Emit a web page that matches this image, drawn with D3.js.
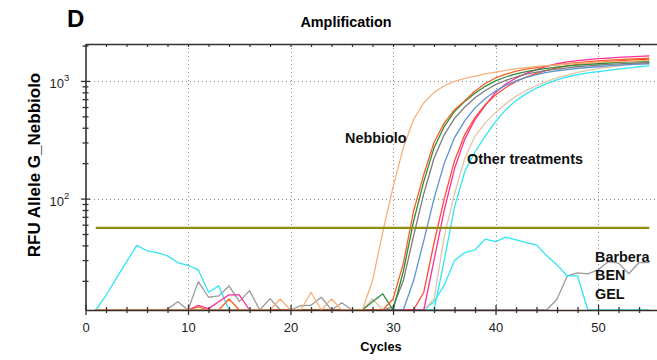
<!DOCTYPE html>
<html><head><meta charset="utf-8">
<script src="https://cdn.jsdelivr.net/npm/d3@7"></script>
<style>html,body{margin:0;padding:0;background:#fff;} svg{display:block;font-family:"Liberation Sans",Arial,sans-serif;}</style>
</head><body><svg id="c" width="657" height="360"></svg>
<script>
// cycles 1..55
const cycles = d3.range(1, 56);

const nebbiolo = [8,8,8,8,8,8,8,8,8,8,8,8,8,8,8,8,8,8,14,8,8,16,8,14,8,8,9,20,52,125,270,470,650,800,910,990,1050,1100,1150,1190,1230,1270,1300,1330,1350,1370,1390,1410,1420,1440,1450,1460,1470,1480,1490];
const orangeA = [8,8,8,8,8,8,8,8,8,8,12,8,8,14,8,8,8,8,8,8,8,8,8,8,8,8,8,8,8,14,28,78,160,300,440,570,680,820,950,1060,1140,1210,1260,1300,1340,1370,1400,1430,1460,1480,1500,1520,1535,1550,1560];
const green = [8,8,8,8,8,8,8,8,8,8,8,8,8,8,8,8,8,8,8,8,8,8,8,8,8,8,8,13.3,15.5,8,24,64,140,270,410,550,670,790,900,1000,1080,1150,1200,1240,1280,1310,1340,1360,1380,1400,1420,1435,1450,1460,1470];
const gray = [8,8,8,8,8,8,8,8,8,8,8,8,8,8,8,8,8,8,8,8,8,8,8,8,8,8,8,8,8,12,20,48,110,220,350,480,600,720,830,930,1010,1080,1140,1190,1230,1260,1290,1320,1340,1360,1380,1395,1410,1420,1430];
const blue = [8,8,8,8,8,8,8,8,8,8,8,8,8,8,8,8,8,8,8,8,8,8,8,8,8,8,8,8,8,8,8,20,44,100,200,330,460,590,710,820,920,1000,1070,1130,1180,1220,1250,1280,1300,1320,1340,1360,1375,1390,1400];
const orangeB = [8,8,8,8,8,8,8,8,8,8,8,8,8,8,8,8,8,8,8,8,8,8,8,8,8,8,8,8,8,8,8,8,16,42,100,210,350,490,630,760,880,990,1080,1160,1230,1290,1340,1380,1410,1440,1460,1480,1500,1515,1530];
const pink = [8,8,8,8,8,8,8,8,8,8,12.4,11.6,13.3,15.2,15.2,8,8,8,8,8,8,8,8,8,8,8,8,8,8,8,8,8,10,30,80,180,320,470,620,800,940,1060,1160,1250,1330,1400,1450,1490,1520,1545,1565,1585,1600,1615,1630];
const tan = [8,8,8,8,8,8,8,8,8,8,8,8,8,8,8,8,8,8,8,8,8,8,8,8,8,8,8,14,8,8,8,8,8,14,48,110,220,340,440,540,640,740,830,910,990,1060,1120,1180,1230,1270,1310,1340,1370,1395,1420];
const cyan = [8,8,8,8,8,8,8,8,8,8,8,8,8,8,8,8,8,8,8,8,8,8,8,8,8,8,8,8,8,8,8,8,8,11,30,85,170,250,340,450,570,680,780,870,950,1020,1080,1130,1170,1200,1230,1260,1290,1315,1340];
const cyanNeg = [8,15,21,29,40,36,34.8,32.6,28.6,27,24.8,16,18.1,8,8,8,8,8,8,8,8,8,8,8,8,8,8,8,8,8,8,8,8,13.3,18.4,29.8,34.8,36.7,45.2,43.1,47,44.5,42.3,40.4,32.6,27.3,22,22,8,8,8,8,8,8,8];
const grayNeg = [8,8,8,8,8,8,8,11.5,13.3,8,19.7,14.5,14.9,18.1,13.3,16.5,8,14.1,8,8,12.3,12.4,14.5,8,13,8,8,8,8,8,8,8,8,8,8,8,8,8,8,8,8,8,8,8,8,14,22,23.4,22.9,24.8,29.1,28.3,23,28.6,28.6];

const seriesNames = ["grayNeg","cyanNeg","tan","cyan","pink","orangeB","blue","gray","green","orangeA","nebbiolo"];
const seriesValues = [grayNeg,cyanNeg,tan,cyan,pink,orangeB,blue,gray,green,orangeA,nebbiolo];
const seriesColors = ["#9a9a9a","#2fe6f2","#e2c4a6","#2fe6f2","#ff2e98","#ff4a30","#5b92d2","#7c7c7c","#2e8b3a","#f95f22","#f8b07c"];

const xTickValues = d3.range(0, 56, 2);
const xTickLabels = [0,10,20,30,40,50];
const yMinorTicks = [20,30,40,50,60,70,80,90,200,300,400,500,600,700,800,900,2000];
const yMajorTicks = [100,1000];
const yMajorExp = ["2","3"];
const threshold = 56.4;

const svg = d3.select("#c");
const x = d3.scaleLinear().domain([0, 55.75]).range([85.5, 657]);
const y = d3.scaleLog().domain([11.3, 2060]).range([310, 44]).clamp(true);

// grid
const grid = svg.append("g").attr("stroke", "#8a8a8a").attr("stroke-width", 1).attr("stroke-dasharray", "1,3");
grid.selectAll("line.v").data([10,20,30,40,50]).join("line")
  .attr("x1", d => Math.round(x(d)) + 0.5).attr("x2", d => Math.round(x(d)) + 0.5)
  .attr("y1", 44).attr("y2", 310);
grid.selectAll("line.h").data(yMajorTicks).join("line")
  .attr("x1", 86).attr("x2", 657)
  .attr("y1", d => Math.round(y(d)) + 0.5).attr("y2", d => Math.round(y(d)) + 0.5);

// curves
const line = d3.line().x((d, i) => x(cycles[i])).y(d => y(d));
const curves = svg.append("g").attr("fill", "none").attr("stroke-width", 1.3).attr("stroke-linejoin", "round");
seriesValues.forEach((vals, i) => {
  curves.append("path").attr("d", line(vals)).attr("stroke", seriesColors[i]).attr("class", seriesNames[i]);
});

// bottom axis
const gx = svg.append("g").attr("transform", "translate(0,310)")
  .call(d3.axisBottom(x).tickValues(xTickValues).tickSizeOuter(0)
    .tickFormat(d => xTickLabels.includes(d) ? d : ""));
gx.select(".domain").attr("stroke", "#3a2a25").attr("stroke-width", 1.6);
gx.selectAll(".tick line").attr("stroke", "#333").attr("stroke-width", 1.3)
  .attr("y1", d => d % 10 === 0 ? -5 : -3).attr("y2", d => d % 10 === 0 ? 5 : 3);
gx.selectAll(".tick text").attr("y", 13).attr("font-size", 13).attr("fill", "#222")
  .attr("font-family", "Liberation Sans, Arial, sans-serif");

// top axis
const gt = svg.append("g").attr("transform", "translate(0,44)")
  .call(d3.axisBottom(x).tickValues(xTickValues).tickSizeOuter(0).tickSizeInner(3).tickFormat(""));
gt.select(".domain").attr("stroke", "#333").attr("stroke-width", 1.6);
gt.selectAll(".tick line").attr("stroke", "#333").attr("stroke-width", 1.2);

// left axis
const gy = svg.append("g").attr("transform", "translate(85.5,0)")
  .call(d3.axisLeft(y).tickValues(yMinorTicks.concat(yMajorTicks)).tickSizeOuter(0).tickFormat(""));
gy.select(".domain").attr("stroke", "#333").attr("stroke-width", 1.6);
gy.selectAll(".tick line").attr("stroke", "#333").attr("stroke-width", 1.3)
  .attr("x1", d => yMajorTicks.includes(d) ? -4.5 : -3).attr("x2", d => yMajorTicks.includes(d) ? 4.5 : 3);
const yl = svg.append("g").attr("font-size", 13).attr("fill", "#222");
yMajorTicks.forEach((v, i) => {
  const t = yl.append("text").attr("x", 49.5).attr("y", y(v) + 7);
  t.append("tspan").text("10");
  t.append("tspan").attr("dy", -7).attr("font-size", 9.5).text(yMajorExp[i]);
});

// threshold
svg.append("line").attr("x1", x(1)).attr("x2", x(55))
  .attr("y1", y(threshold)).attr("y2", y(threshold))
  .attr("stroke", "#8f8f12").attr("stroke-width", 2.4);

// texts
svg.append("text").attr("x", 67).attr("y", 27).attr("font-size", 24).attr("font-weight", "bold").text("D");
svg.append("text").attr("x", 346).attr("y", 27).attr("text-anchor", "middle").attr("font-size", 14.4).attr("font-weight", "bold").text("Amplification");
svg.append("text").attr("x", 381).attr("y", 351).attr("text-anchor", "middle").attr("font-size", 12.8).attr("font-weight", "bold").text("Cycles");
svg.append("text").attr("transform", "translate(40,165) rotate(-90)").attr("text-anchor", "middle").attr("font-size", 17).attr("font-weight", "bold").text("RFU Allele G_Nebbiolo");
const ann = svg.append("g").attr("font-size", 14.4).attr("font-weight", "bold").attr("fill", "#111");
ann.append("text").attr("x", 345).attr("y", 143).text("Nebbiolo");
ann.append("text").attr("x", 467).attr("y", 164).text("Other treatments");
ann.append("text").attr("x", 595).attr("y", 262).text("Barbera");
ann.append("text").attr("x", 595).attr("y", 280).text("BEN");
ann.append("text").attr("x", 595).attr("y", 299).text("GEL");
</script></body></html>
